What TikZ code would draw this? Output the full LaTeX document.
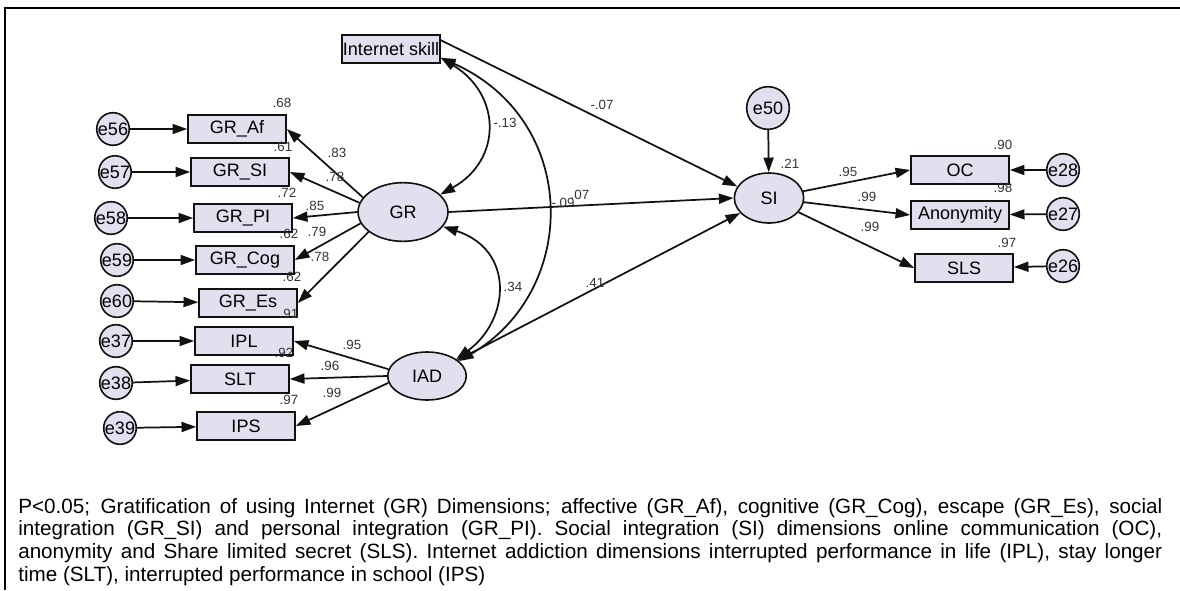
\documentclass[tikz,border=0pt]{standalone}
\usepackage{fontspec}
\setmainfont{Liberation Sans}
\usepackage{xcolor}
\definecolor{cFill}{HTML}{E4DFEE}
\definecolor{cLine}{HTML}{111111}
\definecolor{cGray}{HTML}{333333}
\usetikzlibrary{positioning,arrows.meta,shapes.geometric}
\tikzset{
  node-box/.style={draw=cLine,line width=1.2pt,fill=cFill,
    minimum width=73.5pt,minimum height=21pt,inner sep=0pt,
    font=\fontsize{13.5}{14}\selectfont},
  node-latent/.style={draw=cLine,line width=1.2pt,fill=cFill,ellipse,
    inner sep=0pt,font=\fontsize{13.5}{14}\selectfont},
  node-err/.style={draw=cLine,line width=1.2pt,fill=cFill,circle,
    minimum size=23pt,inner sep=0pt,font=\fontsize{13.5}{14}\selectfont},
  coef/.style={font=\fontsize{10}{11}\selectfont,text=cGray,inner sep=0pt},
  arrow/.style={-{Triangle[length=11pt,width=7.5pt]},line width=1.3pt,draw=cLine},
  arrow-cov/.style={{Triangle[length=11pt,width=7.5pt]}-{Triangle[length=11pt,width=7.5pt]},
    line width=1.3pt,draw=cLine},
}
\begin{document}
\begin{tikzpicture}[x=0.75pt,y=-0.75pt]
  \useasboundingbox (0,0) rectangle (1180,590);
  \draw[line width=1.5pt] (1180,8) -- (5,8) -- (5,590);
  % observed variables
  \node[node-box] (is) at (391,49) {Internet skill};
  \node[node-box] (graf) at (237,129) {GR\_Af};
  \node[node-box] (grsi) at (240,172) {GR\_SI};
  \node[node-box] (grpi) at (243,218) {GR\_PI};
  \node[node-box] (grcog) at (245,260) {GR\_Cog};
  \node[node-box] (gres) at (248,303) {GR\_Es};
  \node[node-box] (ipl) at (244,341) {IPL};
  \node[node-box] (slt) at (240,379) {SLT};
  \node[node-box] (ips) at (246,426) {IPS};
  \node[node-box] (oc) at (960,170) {OC};
  \node[node-box] (anon) at (960,215) {Anonymity};
  \node[node-box] (sls) at (964,268) {SLS};
  % latent variables
  \node[node-latent,minimum width=67.5pt,minimum height=44pt] (gr) at (403,212) {GR};
  \node[node-latent,minimum width=59pt,minimum height=36pt] (iad) at (427,376) {IAD};
  \node[node-latent,minimum width=52pt,minimum height=37.5pt] (si) at (769,198) {SI};
  % error terms
  \node[node-err] (e56) at (113,129) {e56};
  \node[node-err] (e57) at (115,172) {e57};
  \node[node-err] (e58) at (111,218) {e58};
  \node[node-err] (e59) at (117,260) {e59};
  \node[node-err] (e60) at (117,301) {e60};
  \node[node-err] (e37) at (116,341) {e37};
  \node[node-err] (e38) at (116,383) {e38};
  \node[node-err] (e39) at (120,428) {e39};
  \node[node-err,minimum size=32pt] (e50) at (768,108) {e50};
  \node[node-err] (e28) at (1063,170) {e28};
  \node[node-err] (e27) at (1063,214) {e27};
  \node[node-err] (e26) at (1063,266) {e26};
  % error arrows
  \foreach \e/\v in {e56/graf,e57/grsi,e58/grpi,e59/grcog,e60/gres,%
      e37/ipl,e38/slt,e39/ips,e50/si,e28/oc,e27/anon,e26/sls}
    \draw[arrow] (\e) -- (\v);
  % loadings
  \draw[arrow] (gr.160) -- (graf.east);
  \draw[arrow] (gr.168) -- (grsi.east);
  \draw[arrow] (gr.180) -- (grpi.east);
  \draw[arrow] (gr.195) -- (grcog.east);
  \draw[arrow] (gr.210) -- (gres.east);
  \draw[arrow] (iad.170) -- (ipl.east);
  \draw[arrow] (iad.west) -- (slt.east);
  \draw[arrow] (iad.190) -- (ips.east);
  \draw[arrow] (si) -- (oc.west);
  \draw[arrow] (si) -- (anon.west);
  \draw[arrow] (si) -- (sls.west);
  % structural paths
  \draw[arrow] (is.10) -- (si.160);
  \draw[arrow] (gr.east) -- (si.west);
  \draw[arrow] (iad) -- (si);
  % covariances
  \draw[arrow-cov] (is.-10) .. controls (502,95) and (502,160) .. (gr.25);
  \draw[arrow-cov] (is.-10) .. controls (580,120) and (580,290) .. (iad.25);
  \draw[arrow-cov] (gr.-20) .. controls (515,250) and (510,320) .. (iad.30);
  % estimates
  \node[coef] (r-graf) at (282,103) {.68};
  \node[coef] (r-grsi) at (283,147) {.61};
  \node[coef] (r-grpi) at (287,193) {.72};
  \node[coef] (r-grcog) at (289,234) {.62};
  \node[coef] (r-gres) at (292,277) {.62};
  \node[coef] (r-ipl) at (289,314) {.91};
  \node[coef] (r-slt) at (284,353) {.92};
  \node[coef] (r-ips) at (289,400) {.97};
  \node[coef] (l-graf) at (337,153) {.83};
  \node[coef] (l-grsi) at (335,177) {.78};
  \node[coef] (l-grpi) at (315,206) {.85};
  \node[coef] (l-grcog) at (317,232) {.79};
  \node[coef] (l-gres) at (320,257) {.78};
  \node[coef] (l-ipl) at (352,345) {.95};
  \node[coef] (l-slt) at (330,366) {.96};
  \node[coef] (l-ips) at (332,393) {.99};
  \node[coef] (c-isgr) at (505,123) {-.13};
  \node[coef] (c-isiad) at (563,203) {-.09};
  \node[coef] (c-griad) at (513,287) {.34};
  \node[coef] (b-issi) at (602,105) {-.07};
  \node[coef] (b-grsi) at (580,195) {.07};
  \node[coef] (b-iadsi) at (595,283) {.41};
  \node[coef] (r-si) at (790,164) {.21};
  \node[coef] (l-oc) at (848,172) {.95};
  \node[coef] (l-anon) at (867,197) {.99};
  \node[coef] (l-sls) at (870,227) {.99};
  \node[coef] (r-oc) at (1003,145) {.90};
  \node[coef] (r-anon) at (1003,188) {.98};
  \node[coef] (r-sls) at (1007,243) {.97};
  % note
  \node[anchor=north west,inner sep=0pt,text width=858pt,align=justify,
    font=\fontsize{15.5}{17}\selectfont] (note) at (18,498)
    {P<0.05; Gratification of using Internet (GR) Dimensions; affective
    (GR\_Af), cognitive (GR\_Cog), escape (GR\_Es), social\linebreak
    integration (GR\_SI) and personal integration (GR\_PI). Social
    integration (SI) dimensions online communication (OC),\linebreak
    anonymity and Share limited secret (SLS). Internet addiction dimensions
    interrupted performance in life (IPL), stay longer\linebreak
    time (SLT), interrupted performance in school (IPS)};
\end{tikzpicture}
\end{document}
